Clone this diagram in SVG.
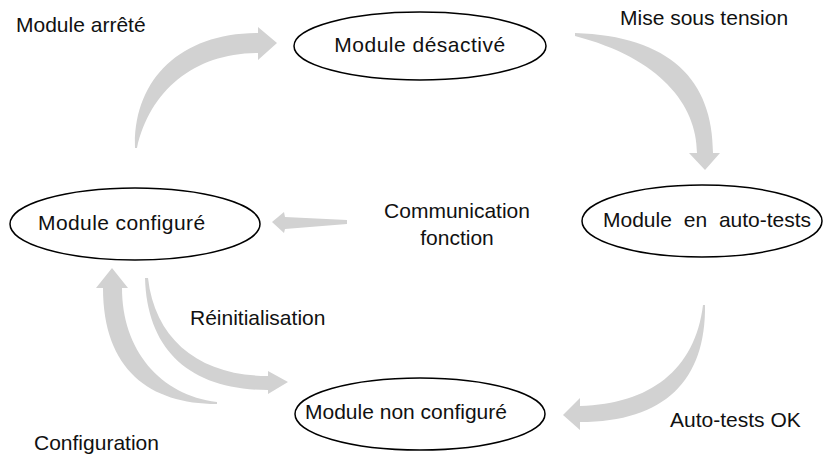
<svg xmlns="http://www.w3.org/2000/svg" width="823" height="458" viewBox="0 0 823 458">
<style>
.node ellipse{fill:#fff;stroke:#000;stroke-width:1.5}
text{font-family:"Liberation Sans",Arial,sans-serif;font-size:21px;fill:#111}
.arrow{fill:#d2d2d2;stroke:none}
</style>
<rect width="823" height="458" fill="#fff"/>
<g id="connectors">
<path class="arrow" d="M135,148 C133,80 180,33 258,33 L258,27 L277,43 L258,60 L258,53 C195,53 150,90 137,148 Z"/>
<path class="arrow" d="M575,33 C670,36 713,80 713,153 L720,153 L705,170 L689,153 L697,153 C697,105 660,58 575,36 Z"/>
<path class="arrow" d="M347,220 L285,217 L284,212 L272,222 L284,233 L285,229 L347,224 Z"/>
<path class="arrow" d="M145,278 C147,350 190,390 268,390 L268,394 L288,382 L268,371 L268,376 C200,376 155,340 148,278 Z"/>
<path class="arrow" d="M217,404 C150,404 103,370 103,288 L96,288 L112,268 L128,288 L122,288 C122,350 160,395 217,402 Z"/>
<path class="arrow" d="M705,305 C706,380 665,422 580,422 L580,430 L563,415 L580,398 L580,406 C650,404 695,370 703,305 Z"/>
</g>
<g id="n-desactive" class="node"><ellipse cx="420" cy="46" rx="126" ry="34"/><text x="420" y="52" text-anchor="middle" letter-spacing="0.5">Module désactivé</text></g>
<g id="n-autotests" class="node"><ellipse cx="702" cy="221" rx="120" ry="36"/><text x="603" y="227" word-spacing="6">Module en auto-tests</text></g>
<g id="n-configure" class="node"><ellipse cx="135" cy="224" rx="125" ry="36"/><text x="38" y="230" letter-spacing="0.4">Module configuré</text></g>
<g id="n-nonconfigure" class="node"><ellipse cx="420" cy="414" rx="125" ry="36"/><text x="305" y="419">Module non configuré</text></g>
<g id="labels">
<text x="16" y="32">Module arrêté</text>
<text x="620" y="25">Mise sous tension</text>
<text x="457" y="218" text-anchor="middle">Communication</text>
<text x="457" y="245" text-anchor="middle">fonction</text>
<text x="190" y="325">Réinitialisation</text>
<text x="670" y="427">Auto-tests OK</text>
<text x="34" y="450">Configuration</text>
</g>
</svg>
